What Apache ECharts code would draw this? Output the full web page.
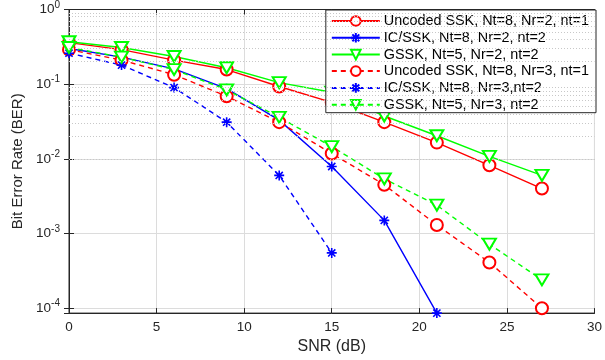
<!DOCTYPE html>
<html>
<head>
<meta charset="utf-8">
<script src="https://cdn.jsdelivr.net/npm/echarts@6/dist/echarts.min.js"></script>
<style>
  html, body { margin: 0; padding: 0; background: #fff; }
  #chart { width: 605px; height: 360px; }
</style>
</head>
<body>
<div id="chart"></div>
<script>
////--------------------------------------------------------------------////
const snr          = [0, 3, 6, 9, 12, 15, 18, 21, 24, 27];
const uncoded_nr2  = [0.36, 0.29, 0.21, 0.157, 0.093, 0.057, 0.031, 0.0165, 0.0082, 0.0040];
const ic_nr2       = [0.30, 0.23, 0.16, 0.087, 0.033, 0.0079, 0.0015, 0.000086];
const gssk_nr2     = [0.37, 0.31, 0.235, 0.166, 0.105, 0.078, 0.0375, 0.0204, 0.0108, 0.0060];
const uncoded_nr3  = [0.29, 0.21, 0.134, 0.069, 0.031, 0.0118, 0.0045, 0.0013, 0.00041, 0.0001];
const ic_nr3       = [0.26, 0.18, 0.09, 0.031, 0.006, 0.00055];
const gssk_nr3     = [0.31, 0.23, 0.157, 0.084, 0.036, 0.0146, 0.0054, 0.0024, 0.00072, 0.00024];
const names = [
    'Uncoded SSK, Nt=8, Nr=2, nt=1',
    'IC/SSK, Nt=8, Nr=2, nt=2',
    'GSSK, Nt=5, Nr=2, nt=2',
    'Uncoded SSK, Nt=8, Nr=3, nt=1',
    'IC/SSK, Nt=8, Nr=3,nt=2',
    'GSSK, Nt=5, Nr=3, nt=2'
];
const y_min = 0.000086;
const y_max = 1;
////--------------------------------------------------------------------////
const star = 'path://M0,-5L0,5M-5,0L5,0M-3.6,-3.6L3.6,3.6M-3.6,3.6L3.6,-3.6';
const dash = [5, 4];
const ink  = '#262626';

function pairs(values) {
    return values.map((v, i) => [snr[i], v]);
}
function make_series(name, values, color, dashed, marker) {
    const s = {
        name: name,
        type: 'line',
        data: pairs(values),
        showAllSymbol: true,
        lineStyle: {color: color, width: 1.4, type: dashed ? dash : 'solid'},
        itemStyle: {color: color, borderColor: color, borderWidth: 1.4},
        emphasis: {disabled: true},
        z: 3
    };
    if (marker === 'circle') {
        s.symbol = 'emptyCircle';
        s.symbolSize = 12;
    } else if (marker === 'tri') {
        s.symbol = 'emptyTriangle';
        s.symbolSize = [13, 11];
        s.symbolRotate = 180;
    } else {
        s.symbol = star;
        s.symbolSize = 10;
        s.itemStyle = {color: 'none', borderColor: color, borderWidth: 1.6};
    }
    return s;
}
// minor grid (2..9 in every decade)
const minor_lines = [];
for (let d = -5; d < 0; d++) {
    for (let k = 2; k <= 9; k++) {
        const v = k * Math.pow(10, d);
        if (v > y_min && v < y_max) minor_lines.push({yAxis: v});
    }
}
const series = [
    make_series(names[0], uncoded_nr2, '#ff0000', false, 'circle'),
    make_series(names[1], ic_nr2,      '#0000ff', false, 'star'),
    make_series(names[2], gssk_nr2,    '#00ff00', false, 'tri'),
    make_series(names[3], uncoded_nr3, '#ff0000', true,  'circle'),
    make_series(names[4], ic_nr3,      '#0000ff', true,  'star'),
    make_series(names[5], gssk_nr3,    '#00ff00', true,  'tri'),
    {
        name: 'minor',
        type: 'line',
        data: [],
        silent: true,
        markLine: {
            silent: true,
            symbol: 'none',
            label: {show: false},
            lineStyle: {color: '#c8c8c8', width: 1, type: [1, 2]},
            data: minor_lines
        },
        z: 1
    }
];
////--------------------------------------------------------------------////
const font = 'Liberation Sans, Arial, sans-serif';
const x_common = {type: 'value', min: 0, max: 30, interval: 5};
const y_common = {type: 'log', logBase: 10, min: y_min, max: y_max};
const option = {
    animation: false,
    textStyle: {fontFamily: font},
    grid: {left: 69, right: 8, top: 9, bottom: 43, show: true, borderColor: ink, borderWidth: 1},
    legend: {
        data: names,
        orient: 'vertical',
        right: 9,
        top: 10,
        padding: [4, 7, 1, 5],
        itemGap: 2.5,
        itemWidth: 48,
        itemHeight: 12,
        backgroundColor: '#fff',
        borderColor: ink,
        borderWidth: 1,
        textStyle: {fontFamily: font, fontSize: 14.4, lineHeight: 12, color: '#000', padding: [0, 0, 0, -1]}
    },
    xAxis: [
        Object.assign({}, x_common, {
            name: 'SNR (dB)',
            nameLocation: 'middle',
            nameGap: 24,
            nameTextStyle: {fontFamily: font, fontSize: 16, color: ink},
            axisLine: {lineStyle: {color: ink}},
            axisTick: {inside: true, length: 5, lineStyle: {color: ink}},
            axisLabel: {fontFamily: font, fontSize: 13.5, color: ink, margin: 7},
            splitLine: {show: true, lineStyle: {color: '#dcdcdc', width: 1}}
        }),
        Object.assign({}, x_common, {
            position: 'top',
            axisLine: {lineStyle: {color: ink}},
            axisTick: {inside: true, length: 5, lineStyle: {color: ink}},
            axisLabel: {show: false},
            splitLine: {show: false}
        })
    ],
    yAxis: [
        Object.assign({}, y_common, {
            name: 'Bit Error Rate (BER)',
            nameLocation: 'middle',
            nameGap: 44,
            nameTextStyle: {fontFamily: font, fontSize: 15, color: ink},
            axisLine: {lineStyle: {color: ink}},
            axisTick: {inside: true, length: 5, lineStyle: {color: ink}},
            axisLabel: {
                margin: 9,
                formatter: function (v) {
                    const lg = Math.log10(v);
                    const e = Math.round(lg);
                    if (Math.abs(lg - e) > 1e-6) return '';
                    return '{b|10}{s|' + (e === 0 ? '0' : '-' + (-e)) + '}';
                },
                rich: {
                    b: {fontFamily: font, fontSize: 13.5, color: ink},
                    s: {fontFamily: font, fontSize: 10, color: ink, padding: [0, 0, 9, 0]}
                }
            },
            splitLine: {show: true, lineStyle: {color: '#dcdcdc', width: 1}}
        }),
        Object.assign({}, y_common, {
            position: 'right',
            axisLine: {lineStyle: {color: ink}},
            axisTick: {inside: true, length: 5, lineStyle: {color: ink}},
            axisLabel: {show: false},
            splitLine: {show: false}
        })
    ],
    series: series
};
const chart = echarts.init(document.getElementById('chart'), null, {renderer: 'canvas'});
chart.setOption(option);
</script>
</body>
</html>
